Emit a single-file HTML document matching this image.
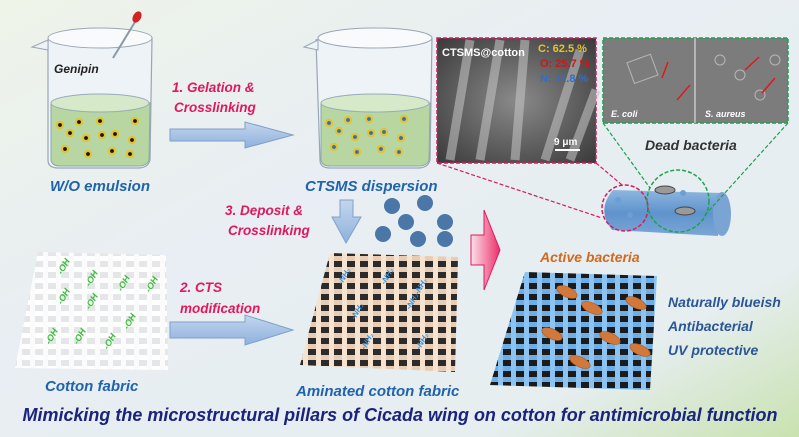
<!DOCTYPE html>
<html><head><meta charset="utf-8"><style>
html,body{margin:0;padding:0;width:799px;height:437px;overflow:hidden}
svg{display:block}
text{font-family:"Liberation Sans",sans-serif;font-style:italic;font-weight:bold}
</style></head><body>
<svg width="799" height="437" viewBox="0 0 799 437" xmlns="http://www.w3.org/2000/svg">
<defs>
<linearGradient id="bg" x1="0" y1="0" x2="1" y2="1">
<stop offset="0" stop-color="#eef4e8"/><stop offset="0.4" stop-color="#e8eef3"/><stop offset="0.8" stop-color="#e6eef0"/><stop offset="1" stop-color="#c9e2b0"/></linearGradient>
<linearGradient id="arr" x1="0" y1="0" x2="0" y2="1"><stop offset="0" stop-color="#c3d6ee"/><stop offset="1" stop-color="#8fb1dc"/></linearGradient>
<linearGradient id="pk" x1="0" y1="0" x2="1" y2="0"><stop offset="0" stop-color="#fde1ea"/><stop offset="1" stop-color="#ea2f6a"/></linearGradient>
<linearGradient id="cyl" x1="0" y1="0" x2="0" y2="1"><stop offset="0" stop-color="#8db6e0"/><stop offset="0.5" stop-color="#5f93cc"/><stop offset="1" stop-color="#7aa6d6"/></linearGradient>
<radialGradient id="sem" cx="0.5" cy="0.5" r="0.7"><stop offset="0" stop-color="#8a8a8a"/><stop offset="1" stop-color="#3a3a3a"/></radialGradient>
<pattern id="wh" width="13" height="11" patternUnits="userSpaceOnUse"><rect width="13" height="11" fill="#e4e6e8"/><rect x="0" y="3" width="13" height="5" fill="#fff"/><rect x="4" y="0" width="5" height="11" fill="#fbfbfb"/></pattern>
<pattern id="be" width="13" height="11" patternUnits="userSpaceOnUse"><rect width="13" height="11" fill="#2b2b2b"/><rect x="0" y="3" width="13" height="5" fill="#e8cdb4"/><rect x="4" y="0" width="5" height="11" fill="#f5e3cf"/></pattern>
<pattern id="bl" width="13" height="11" patternUnits="userSpaceOnUse"><rect width="13" height="11" fill="#1b1b1b"/><rect x="0" y="3" width="13" height="5" fill="#6eaee6"/><rect x="4" y="0" width="5" height="11" fill="#8cc3f0"/></pattern>
</defs>
<rect width="799" height="437" fill="url(#bg)"/>

<!-- beaker 1 -->
<g>
<path d="M48 40 Q95 25 152 38 L150 160 Q148 168 138 168 L58 168 Q48 168 48 160 Z" fill="#eef3f8" stroke="#9aa6b4" stroke-width="1.2"/>
<path d="M32 47 L48 40 L48 50 Z" fill="#eef3f8" stroke="#9aa6b4"/>
<ellipse cx="100" cy="38" rx="52" ry="10" fill="#f8fafc" stroke="#9aa6b4"/>
<path d="M51 103 L150 103 L149 160 Q147 166 138 166 L60 166 Q52 166 51 160 Z" fill="#b7d6a2" stroke="#8aa"/>
<ellipse cx="100" cy="103" rx="49" ry="9" fill="#d6e9c8" stroke="#9ab"/>
<line x1="113" y1="58" x2="135" y2="22" stroke="#8a9aa8" stroke-width="2"/>
<ellipse cx="137" cy="17" rx="4" ry="6" fill="#d32222" transform="rotate(30 137 17)"/>
<text x="54" y="73" font-size="12" fill="#222">Genipin</text>
<g fill="#141414" stroke="#e6c22c" stroke-width="2.2">
<circle cx="60" cy="125" r="3"/><circle cx="79" cy="122" r="3"/><circle cx="100" cy="121" r="3"/><circle cx="135" cy="121" r="3"/>
<circle cx="70" cy="133" r="3"/><circle cx="86" cy="138" r="3"/><circle cx="102" cy="135" r="3"/><circle cx="115" cy="134" r="3"/><circle cx="132" cy="140" r="3"/>
<circle cx="65" cy="149" r="3"/><circle cx="88" cy="154" r="3"/><circle cx="112" cy="151" r="3"/><circle cx="130" cy="154" r="3"/>
</g>
</g>
<text x="50" y="191" font-size="15" fill="#1f63ad">W/O emulsion</text>

<!-- arrow 1 -->
<path d="M170 129 L245 129 L245 122 L293 135 L245 148 L245 141 L170 141 Z" fill="url(#arr)" stroke="#7fa0c8"/>
<text x="172" y="92" font-size="13.5" fill="#e0195c">1. Gelation &amp;</text>
<text x="174" y="112" font-size="13.5" fill="#e0195c">Crosslinking</text>

<!-- beaker 2 -->
<g>
<path d="M316 40 Q370 25 432 38 L430 160 Q428 168 418 168 L330 168 Q320 168 320 160 Z" fill="#eef3f8" stroke="#9aa6b4" stroke-width="1.2"/>
<path d="M304 47 L318 40 L318 50 Z" fill="#eef3f8" stroke="#9aa6b4"/>
<ellipse cx="375" cy="38" rx="57" ry="10" fill="#f8fafc" stroke="#9aa6b4"/>
<path d="M321 103 L430 103 L429 160 Q427 166 418 166 L330 166 Q322 166 321 160 Z" fill="#b7d6a2" stroke="#8aa"/>
<ellipse cx="375" cy="103" rx="54" ry="9" fill="#d6e9c8" stroke="#9ab"/>
<g fill="#2d6fb8" stroke="#e6c22c" stroke-width="2.2">
<circle cx="329" cy="123" r="3"/><circle cx="348" cy="120" r="3"/><circle cx="369" cy="119" r="3"/><circle cx="404" cy="119" r="3"/>
<circle cx="339" cy="131" r="3"/><circle cx="355" cy="137" r="3"/><circle cx="371" cy="133" r="3"/><circle cx="384" cy="132" r="3"/><circle cx="401" cy="138" r="3"/>
<circle cx="334" cy="147" r="3"/><circle cx="357" cy="152" r="3"/><circle cx="381" cy="149" r="3"/><circle cx="399" cy="152" r="3"/>
</g>
</g>
<text x="305" y="191" font-size="15" fill="#1f63ad">CTSMS dispersion</text>

<!-- SEM panel -->
<rect x="437" y="38" width="159" height="125" fill="url(#sem)" stroke="#d81b60" stroke-width="1.5" stroke-dasharray="4,2"/>
<g stroke="#c8c8c8" stroke-width="9" opacity="0.55">
<line x1="450" y1="160" x2="470" y2="40"/><line x1="480" y1="160" x2="500" y2="40"/><line x1="515" y1="160" x2="525" y2="40"/><line x1="545" y1="160" x2="580" y2="50"/><line x1="570" y1="160" x2="596" y2="90"/>
</g>
<text x="442" y="56" font-size="11" font-style="normal" fill="#fff" style="font-style:normal">CTSMS@cotton</text>
<text x="538" y="52" font-size="11" fill="#e8c22a" style="font-style:normal">C: 62.5 %</text>
<text x="540" y="67" font-size="11" fill="#c81a1a" style="font-style:normal">O: 25.7 %</text>
<text x="540" y="82" font-size="11" fill="#2a6fd0" style="font-style:normal">N: 11.8 %</text>
<text x="554" y="145" font-size="10" fill="#fff" style="font-style:normal">9 μm</text>
<line x1="555" y1="150" x2="580" y2="150" stroke="#fff" stroke-width="2"/>

<!-- dead bacteria panel -->
<rect x="603" y="38" width="185" height="85" fill="#7c7c7c" stroke="#1aa34a" stroke-width="1.5" stroke-dasharray="4,2"/>
<line x1="695" y1="38" x2="695" y2="123" stroke="#eee" stroke-width="1"/>
<g fill="none" stroke="#ddd" opacity="0.6"><rect x="630" y="58" width="25" height="22" transform="rotate(-20 642 69)"/><circle cx="720" cy="60" r="5"/><circle cx="740" cy="75" r="5"/><circle cx="760" cy="95" r="5"/><circle cx="775" cy="60" r="5"/></g>
<g stroke="#e01818" stroke-width="1.5"><line x1="668" y1="62" x2="662" y2="78"/><line x1="690" y1="85" x2="677" y2="100"/><line x1="759" y1="57" x2="745" y2="70"/><line x1="775" y1="78" x2="762" y2="93"/></g>
<text x="611" y="117" font-size="9" fill="#fff">E. coli</text>
<text x="705" y="117" font-size="9" fill="#fff">S. aureus</text>
<text x="645" y="150" font-size="14" fill="#333">Dead bacteria</text>

<!-- cylinder -->
<path d="M613 190 L722 193 L718 236 L612 230 Q596 210 613 190 Z" fill="url(#cyl)"/>
<ellipse cx="722" cy="214" rx="9" ry="22" fill="#7aa4d4"/>
<g fill="#6b9fd4"><circle cx="618" cy="200" r="3"/><circle cx="630" cy="215" r="3"/><circle cx="650" cy="225" r="3.5"/><circle cx="683" cy="193" r="3"/><circle cx="685" cy="225" r="3"/></g>
<ellipse cx="665" cy="190" rx="10" ry="4" fill="#9a9a9a" stroke="#444"/><ellipse cx="685" cy="211" rx="10" ry="4" fill="#9a9a9a" stroke="#444"/>
<circle cx="625" cy="208" r="23" fill="none" stroke="#d81b60" stroke-width="1.5" stroke-dasharray="4,2"/>
<circle cx="678" cy="201" r="31" fill="none" stroke="#1aa34a" stroke-width="1.5" stroke-dasharray="4,2"/>
<g stroke-width="1.2" stroke-dasharray="4,2"><line x1="437" y1="163" x2="602" y2="218" stroke="#d81b60"/><line x1="596" y1="163" x2="622" y2="185" stroke="#d81b60"/><line x1="603" y1="123" x2="650" y2="188" stroke="#1aa34a"/><line x1="788" y1="123" x2="705" y2="215" stroke="#1aa34a"/></g>

<!-- step 3 -->
<text x="225" y="215" font-size="13.5" fill="#e0195c">3. Deposit &amp;</text>
<text x="228" y="235" font-size="13.5" fill="#e0195c">Crosslinking</text>
<path d="M340 200 L353 200 L353 217 L361 217 L346 243 L332 217 L340 217 Z" fill="url(#arr)" stroke="#7fa0c8"/>
<g fill="#4a76a8"><circle cx="392" cy="206" r="8"/><circle cx="425" cy="203" r="8"/><circle cx="406" cy="222" r="8"/><circle cx="445" cy="222" r="8"/><circle cx="383" cy="234" r="8"/><circle cx="418" cy="239" r="8"/><circle cx="445" cy="239" r="8"/></g>
<path d="M471 235 L484 235 L484 210 L500 250 L484 290 L484 265 L471 265 Z" fill="url(#pk)" stroke="#e0195c"/>

<!-- cotton fabric -->
<polygon points="38,252 166,255 168,370 15,368" fill="url(#wh)"/>
<g font-size="9" fill="#3bbd3b" style="font-style:normal">
<text transform="translate(62,275) rotate(-60)">-OH</text><text transform="translate(90,287) rotate(-60)">-OH</text><text transform="translate(122,292) rotate(-60)">-OH</text><text transform="translate(150,293) rotate(-60)">-OH</text>
<text transform="translate(62,305) rotate(-60)">-OH</text><text transform="translate(90,310) rotate(-60)">-OH</text>
<text transform="translate(50,345) rotate(-60)">-OH</text><text transform="translate(78,345) rotate(-60)">-OH</text><text transform="translate(108,350) rotate(-60)">-OH</text><text transform="translate(128,330) rotate(-60)">-OH</text>
</g>
<text x="45" y="391" font-size="15" fill="#1f63ad">Cotton fabric</text>

<text x="180" y="292" font-size="13.5" fill="#e0195c">2. CTS</text>
<text x="180" y="313" font-size="13.5" fill="#e0195c">modification</text>
<path d="M170 322 L245 322 L245 315 L293 330 L245 345 L245 338 L170 338 Z" fill="url(#arr)" stroke="#7fa0c8"/>

<!-- aminated fabric -->
<polygon points="330,253 458,257 455,372 300,365" fill="url(#be)"/>
<g font-size="8" fill="#3a8fd6" style="font-style:normal">
<text transform="translate(342,285) rotate(-60)">-NH₂</text><text transform="translate(385,285) rotate(-60)">-NH₂</text><text transform="translate(410,310) rotate(-60)">-NH₂-NH₂</text><text transform="translate(355,320) rotate(-60)">-NH₂</text><text transform="translate(365,350) rotate(-60)">-NH₂</text><text transform="translate(420,350) rotate(-60)">-NH₂</text>
</g>
<text x="296" y="396" font-size="15" fill="#1f63ad">Aminated cotton fabric</text>

<!-- blue fabric -->
<text x="540" y="262" font-size="14" fill="#d2691e">Active bacteria</text>
<polygon points="525,272 657,276 650,390 490,385" fill="url(#bl)"/>
<g fill="#d2783a" stroke="#a8561f" stroke-width="0.6">
<ellipse cx="567" cy="292" rx="11" ry="5" transform="rotate(25 567 292)"/><ellipse cx="592" cy="308" rx="11" ry="5" transform="rotate(25 592 308)"/><ellipse cx="636" cy="303" rx="11" ry="5" transform="rotate(25 636 303)"/>
<ellipse cx="552" cy="334" rx="11" ry="5" transform="rotate(25 552 334)"/><ellipse cx="610" cy="338" rx="11" ry="5" transform="rotate(25 610 338)"/><ellipse cx="640" cy="350" rx="11" ry="5" transform="rotate(25 640 350)"/><ellipse cx="580" cy="362" rx="11" ry="5" transform="rotate(25 580 362)"/>
</g>
<text x="668" y="307" font-size="14" fill="#2b5597">Naturally blueish</text>
<text x="668" y="331" font-size="14" fill="#2b5597">Antibacterial</text>
<text x="668" y="355" font-size="14" fill="#2b5597">UV protective</text>

<text x="400" y="421" font-size="18" fill="#1a237e" text-anchor="middle" textLength="755" lengthAdjust="spacingAndGlyphs">Mimicking the microstructural pillars of Cicada wing on cotton for antimicrobial function</text>
</svg>
</body></html>
